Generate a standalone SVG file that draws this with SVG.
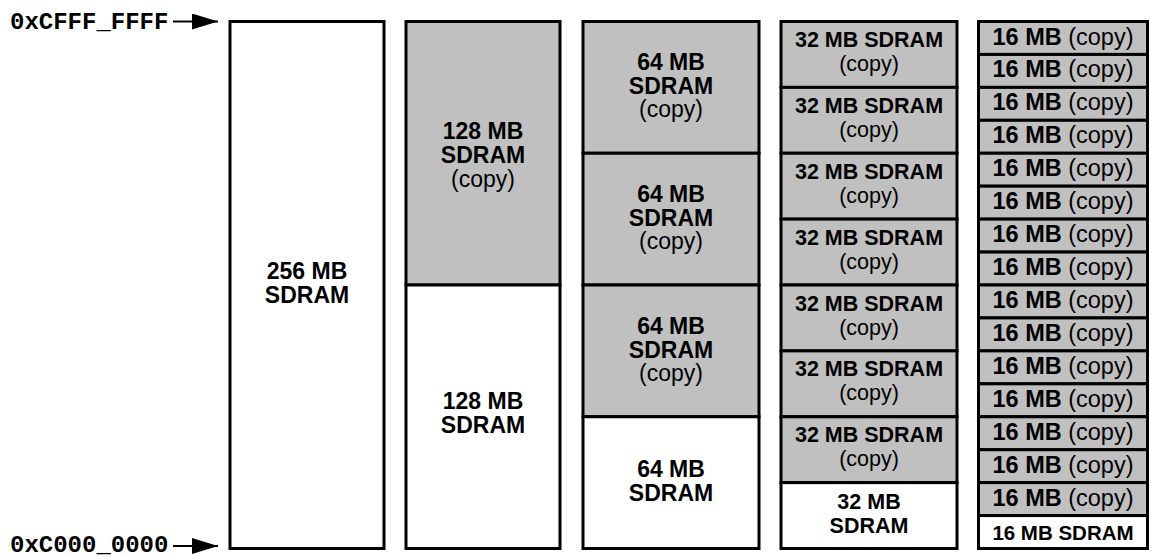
<svg xmlns="http://www.w3.org/2000/svg" width="1151" height="558" viewBox="0 0 1151 558">
<defs>
<style>
.b{stroke:#000;stroke-width:3}
.g{fill:#c0c0c0}
.w{fill:#fff}
.t{font-family:"Liberation Sans",Arial,sans-serif;font-size:23px;fill:#000;text-anchor:middle}
.s4{font-size:21.5px}
.s5{font-size:23.5px}
.bo{font-weight:bold}
.m{font-family:"Liberation Mono","Courier New",monospace;font-size:24px;font-weight:bold;fill:#000}
</style>
<marker id="ah" viewBox="0 0 26 16" refX="26" refY="8" markerWidth="26" markerHeight="16" markerUnits="userSpaceOnUse" orient="auto">
<path d="M0,0 L26,8 L0,16 Z" fill="#000"/>
</marker>
</defs>
<rect width="1151" height="558" fill="#fff"/>
<g id="labels">
<text class="m" x="10" y="29">0xCFFF_FFFF</text>
<text class="m" x="10" y="552">0xC000_0000</text>
</g>
<g id="connectors" stroke="#000" stroke-width="2">
<line x1="173" y1="21.5" x2="218" y2="21.5" marker-end="url(#ah)"/>
<line x1="173" y1="546" x2="218" y2="546" marker-end="url(#ah)"/>
</g>
<g id="col1">
<rect class="b w" x="230" y="21.5" width="154" height="527"/>
<text class="t bo" x="307" y="279">256 MB</text>
<text class="t bo" x="307" y="303">SDRAM</text>
</g>
<g id="col2">
<rect class="b g" x="406" y="21.5" width="154" height="263.5"/>
<rect class="b w" x="406" y="285" width="154" height="263.5"/>
<text class="t bo" x="483" y="139">128 MB</text>
<text class="t bo" x="483" y="163">SDRAM</text>
<text class="t" x="483" y="187">(copy)</text>
<text class="t bo" x="483" y="409">128 MB</text>
<text class="t bo" x="483" y="433">SDRAM</text>
</g>
<g id="col3">
<rect class="b g" x="583" y="21.5" width="176" height="131.75"/>
<rect class="b g" x="583" y="153.25" width="176" height="131.75"/>
<rect class="b g" x="583" y="285" width="176" height="131.75"/>
<rect class="b w" x="583" y="416.75" width="176" height="131.75"/>
<text class="t bo" x="671" y="70">64 MB</text>
<text class="t bo" x="671" y="93.5">SDRAM</text>
<text class="t" x="671" y="117">(copy)</text>
<text class="t bo" x="671" y="202">64 MB</text>
<text class="t bo" x="671" y="225.5">SDRAM</text>
<text class="t" x="671" y="249">(copy)</text>
<text class="t bo" x="671" y="334">64 MB</text>
<text class="t bo" x="671" y="357.5">SDRAM</text>
<text class="t" x="671" y="381">(copy)</text>
<text class="t bo" x="671" y="477">64 MB</text>
<text class="t bo" x="671" y="501">SDRAM</text>
</g>
<g id="col4">
<rect class="b g" x="781" y="21.5" width="176" height="65.875"/>
<rect class="b g" x="781" y="87.375" width="176" height="65.875"/>
<rect class="b g" x="781" y="153.25" width="176" height="65.875"/>
<rect class="b g" x="781" y="219.125" width="176" height="65.875"/>
<rect class="b g" x="781" y="285" width="176" height="65.875"/>
<rect class="b g" x="781" y="350.875" width="176" height="65.875"/>
<rect class="b g" x="781" y="416.75" width="176" height="65.875"/>
<rect class="b w" x="781" y="482.625" width="176" height="65.875"/>
<text class="t s4 bo" x="869" y="47">32 MB SDRAM</text>
<text class="t s4" x="869" y="71">(copy)</text>
<text class="t s4 bo" x="869" y="112.9">32 MB SDRAM</text>
<text class="t s4" x="869" y="136.9">(copy)</text>
<text class="t s4 bo" x="869" y="178.8">32 MB SDRAM</text>
<text class="t s4" x="869" y="202.8">(copy)</text>
<text class="t s4 bo" x="869" y="244.6">32 MB SDRAM</text>
<text class="t s4" x="869" y="268.6">(copy)</text>
<text class="t s4 bo" x="869" y="310.5">32 MB SDRAM</text>
<text class="t s4" x="869" y="334.5">(copy)</text>
<text class="t s4 bo" x="869" y="376.4">32 MB SDRAM</text>
<text class="t s4" x="869" y="400.4">(copy)</text>
<text class="t s4 bo" x="869" y="442.3">32 MB SDRAM</text>
<text class="t s4" x="869" y="466.3">(copy)</text>
<text class="t s4 bo" x="869" y="508.5">32 MB</text>
<text class="t s4 bo" x="869" y="532.5">SDRAM</text>
</g>
<g id="col5">
<rect class="b g" x="978.5" y="21.5" width="169" height="32.94"/>
<rect class="b g" x="978.5" y="54.44" width="169" height="32.94"/>
<rect class="b g" x="978.5" y="87.38" width="169" height="32.94"/>
<rect class="b g" x="978.5" y="120.31" width="169" height="32.94"/>
<rect class="b g" x="978.5" y="153.25" width="169" height="32.94"/>
<rect class="b g" x="978.5" y="186.19" width="169" height="32.94"/>
<rect class="b g" x="978.5" y="219.13" width="169" height="32.94"/>
<rect class="b g" x="978.5" y="252.06" width="169" height="32.94"/>
<rect class="b g" x="978.5" y="285" width="169" height="32.94"/>
<rect class="b g" x="978.5" y="317.94" width="169" height="32.94"/>
<rect class="b g" x="978.5" y="350.88" width="169" height="32.94"/>
<rect class="b g" x="978.5" y="383.81" width="169" height="32.94"/>
<rect class="b g" x="978.5" y="416.75" width="169" height="32.94"/>
<rect class="b g" x="978.5" y="449.69" width="169" height="32.94"/>
<rect class="b g" x="978.5" y="482.63" width="169" height="32.94"/>
<rect class="b w" x="978.5" y="515.56" width="169" height="32.94"/>
<text class="t s5" x="1063" y="44.5"><tspan class="bo">16 MB</tspan> (copy)</text>
<text class="t s5" x="1063" y="77.4"><tspan class="bo">16 MB</tspan> (copy)</text>
<text class="t s5" x="1063" y="110.4"><tspan class="bo">16 MB</tspan> (copy)</text>
<text class="t s5" x="1063" y="143.3"><tspan class="bo">16 MB</tspan> (copy)</text>
<text class="t s5" x="1063" y="176.3"><tspan class="bo">16 MB</tspan> (copy)</text>
<text class="t s5" x="1063" y="209.2"><tspan class="bo">16 MB</tspan> (copy)</text>
<text class="t s5" x="1063" y="242.1"><tspan class="bo">16 MB</tspan> (copy)</text>
<text class="t s5" x="1063" y="275.1"><tspan class="bo">16 MB</tspan> (copy)</text>
<text class="t s5" x="1063" y="308"><tspan class="bo">16 MB</tspan> (copy)</text>
<text class="t s5" x="1063" y="340.9"><tspan class="bo">16 MB</tspan> (copy)</text>
<text class="t s5" x="1063" y="373.9"><tspan class="bo">16 MB</tspan> (copy)</text>
<text class="t s5" x="1063" y="406.8"><tspan class="bo">16 MB</tspan> (copy)</text>
<text class="t s5" x="1063" y="439.8"><tspan class="bo">16 MB</tspan> (copy)</text>
<text class="t s5" x="1063" y="472.7"><tspan class="bo">16 MB</tspan> (copy)</text>
<text class="t s5" x="1063" y="505.6"><tspan class="bo">16 MB</tspan> (copy)</text>
<text class="t bo" x="1063" y="539.5" style="font-size:20.5px">16 MB SDRAM</text>
</g>
</svg>
